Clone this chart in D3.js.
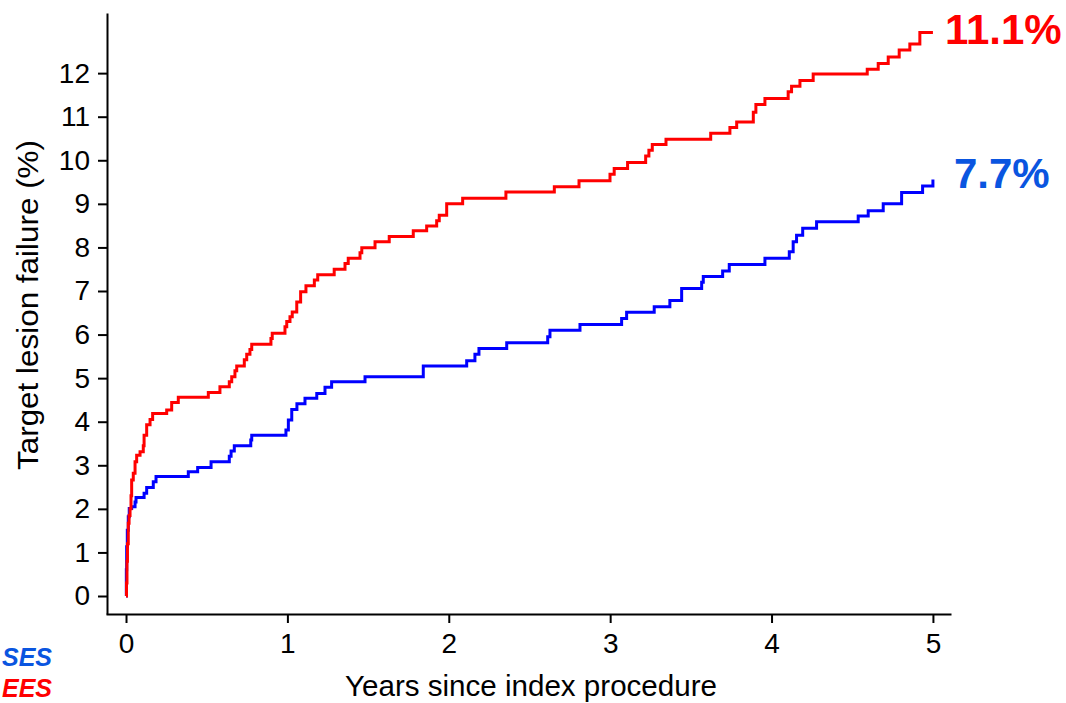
<!DOCTYPE html>
<html>
<head>
<meta charset="utf-8">
<script src="https://cdn.jsdelivr.net/npm/d3@7/dist/d3.min.js"></script>
<style>
  html, body { margin: 0; padding: 0; background: #fff; }
  svg { display: block; font-family: "Liberation Sans", Arial, Helvetica, sans-serif; }
</style>
</head>
<body>
<svg id="chart" width="1066" height="703"></svg>
<script>
// Cumulative target lesion failure (%) by years since the index procedure
// EES arm: step times (years) and cumulative incidence (%)
const eesYears = [0, 0.003, 0.006, 0.009, 0.014, 0.019, 0.025, 0.031, 0.035, 0.045, 0.056, 0.066, 0.087, 0.107, 0.112, 0.128, 0.149, 0.165,
  0.252, 0.283, 0.324, 0.510, 0.582, 0.640, 0.655, 0.675, 0.686, 0.733, 0.748, 0.768, 0.779, 0.898, 0.906, 0.985, 0.996,
  1.016, 1.030, 1.058, 1.082, 1.115, 1.167, 1.188, 1.290, 1.357, 1.377, 1.450, 1.461, 1.543, 1.631, 1.780, 1.863, 1.925, 1.941, 1.987,
  2.086, 2.354, 2.654, 2.807, 2.999, 3.025, 3.108, 3.220, 3.240, 3.261, 3.346, 3.623, 3.742, 3.784, 3.887, 3.903, 3.959,
  4.103, 4.124, 4.176, 4.258, 4.593, 4.661, 4.723, 4.791, 4.857, 4.919, 5.0];
const eesTLF = [0, 0.3, 0.8, 1.2, 1.67, 1.85, 2.0, 2.3, 2.66, 2.82, 3.08, 3.23, 3.31, 3.45, 3.69, 3.93, 4.05, 4.19,
  4.27, 4.44, 4.56, 4.67, 4.80, 4.92, 5.03, 5.17, 5.28, 5.42, 5.55, 5.66, 5.78, 5.91, 6.03, 6.18, 6.30,
  6.41, 6.52, 6.75, 6.98, 7.12, 7.25, 7.37, 7.50, 7.63, 7.75, 7.88, 7.99, 8.13, 8.25, 8.38, 8.49, 8.61, 8.74, 9.00,
  9.13, 9.27, 9.39, 9.53, 9.68, 9.81, 9.95, 10.10, 10.23, 10.36, 10.48, 10.62, 10.75, 10.88, 11.10, 11.28, 11.42,
  11.57, 11.70, 11.83, 11.98, 12.09, 12.22, 12.37, 12.53, 12.67, 12.93, 12.93];

// SES arm
const sesYears = [0, 0.002, 0.004, 0.008, 0.014, 0.020, 0.035, 0.056, 0.062, 0.112, 0.128, 0.169, 0.186,
  0.386, 0.444, 0.527, 0.640, 0.651, 0.671, 0.773, 0.779, 0.991,
  1.006, 1.027, 1.059, 1.109, 1.182, 1.233, 1.274, 1.481, 1.842,
  2.111, 2.162, 2.187, 2.359, 2.613, 2.627, 2.813,
  3.071, 3.102, 3.273, 3.370, 3.443, 3.567, 3.577, 3.697, 3.738, 3.959,
  4.110, 4.134, 4.155, 4.193, 4.279, 4.537, 4.599, 4.692, 4.806, 4.936, 5.0];
const sesTLF = [0, 0.6, 1.13, 1.51, 1.82, 2.01, 2.05, 2.16, 2.26, 2.36, 2.49, 2.62, 2.74,
  2.85, 2.95, 3.08, 3.21, 3.33, 3.45, 3.58, 3.69, 3.81,
  4.04, 4.28, 4.41, 4.54, 4.65, 4.79, 4.92, 5.03, 5.28,
  5.40, 5.55, 5.68, 5.81, 5.95, 6.10, 6.23,
  6.37, 6.51, 6.64, 6.78, 7.06, 7.20, 7.33, 7.46, 7.61, 7.75,
  7.90, 8.13, 8.28, 8.44, 8.59, 8.72, 8.84, 9.00, 9.26, 9.41, 9.56];

const xTicks = [0, 1, 2, 3, 4, 5];
const yTicks = [0, 1, 2, 3, 4, 5, 6, 7, 8, 9, 10, 11, 12];
const seriesNames = ["SES", "EES"];
const fiveYearRates = ["7.7%", "11.1%"];
const xTitle = "Years since index procedure";
const yTitle = "Target lesion failure (%)";

const lineColors = { SES: "#0000ff", EES: "#ff0000" };
const textColors = { SES: "#0a55e0", EES: "#ff0000" };

const svg = d3.select("#chart");

// Axis domains run a little past the data so the axis lines overhang the ticks
const x = d3.scaleLinear().domain([-0.124, 5.112]).range([106, 951]);
const y = d3.scaleLinear().domain([-0.413, 13.38]).range([614, 13]);

const tickFont = "'Liberation Sans', Arial, sans-serif";

// Y axis
const yAxis = svg.append("g")
  .attr("transform", `translate(${x.range()[0] + 1},0)`)
  .call(d3.axisLeft(y).tickValues(yTicks).tickFormat(d3.format("d")).tickSize(9).tickPadding(8).tickSizeOuter(0));
yAxis.select(".domain").attr("stroke", "#000").attr("stroke-width", 2);
yAxis.selectAll(".tick line").attr("stroke", "#000").attr("stroke-width", 2);
yAxis.selectAll(".tick text").attr("font-size", 28).attr("fill", "#000").attr("font-family", tickFont);

// X axis
const xAxis = svg.append("g")
  .attr("transform", `translate(0,${y.range()[0]})`)
  .call(d3.axisBottom(x).tickValues(xTicks).tickFormat(d3.format("d")).tickSize(9).tickPadding(10).tickSizeOuter(0));
xAxis.select(".domain").attr("stroke", "#000").attr("stroke-width", 2);
xAxis.selectAll(".tick line").attr("stroke", "#000").attr("stroke-width", 2);
xAxis.selectAll(".tick text").attr("font-size", 28).attr("fill", "#000").attr("font-family", tickFont);

// Axis titles
svg.append("text")
  .attr("x", 531).attr("y", 696)
  .attr("text-anchor", "middle")
  .attr("font-size", 29)
  .attr("textLength", 372)
  .attr("lengthAdjust", "spacingAndGlyphs")
  .attr("fill", "#000")
  .text(xTitle);

svg.append("text")
  .attr("transform", `translate(38,305) rotate(-90)`)
  .attr("text-anchor", "middle")
  .attr("font-size", 29)
  .attr("textLength", 330)
  .attr("lengthAdjust", "spacingAndGlyphs")
  .attr("fill", "#000")
  .text(yTitle);

// Kaplan-Meier style step curves
const series = [
  { name: "SES", years: sesYears, values: sesTLF, rate: fiveYearRates[0] },
  { name: "EES", years: eesYears, values: eesTLF, rate: fiveYearRates[1] }
];

const line = d3.line()
  .x(d => x(d[0]))
  .y(d => y(d[1]))
  .curve(d3.curveStepAfter);

series.forEach(s => {
  const pts = s.years.map((t, i) => [t, s.values[i]]);
  svg.append("path")
    .datum(pts)
    .attr("fill", "none")
    .attr("stroke", lineColors[s.name])
    .attr("stroke-width", 3)
    .attr("stroke-linejoin", "miter")
    .attr("d", line);
});

// Five-year rates next to the end of each curve
series.forEach(s => {
  const lastT = s.years[s.years.length - 1];
  const lastV = s.values[s.values.length - 1];
  svg.append("text")
    .attr("x", x(lastT) + (s.name === "EES" ? 12 : 21))
    .attr("y", y(lastV) + (s.name === "EES" ? 11 : 9))
    .attr("font-size", 42)
    .attr("font-weight", "bold")
    .attr("fill", textColors[s.name])
    .text(s.rate);
});

// Arm legend at lower left
seriesNames.forEach((name, i) => {
  svg.append("text")
    .attr("x", 2)
    .attr("y", 666 + i * 31)
    .attr("font-size", 25)
    .attr("font-weight", "bold")
    .attr("font-style", "italic")
    .attr("fill", textColors[name])
    .text(name);
});
</script>
</body>
</html>
